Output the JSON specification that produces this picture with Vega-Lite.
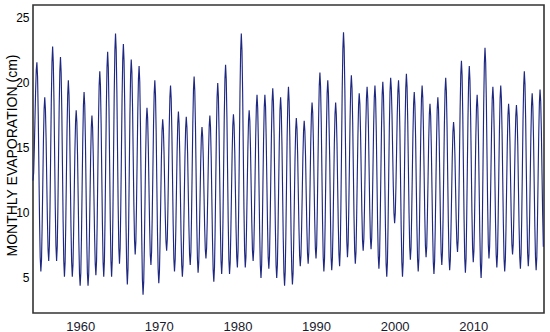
{
"$schema": "https://vega.github.io/schema/vega-lite/v6.json",
"width": 511, "height": 308,
"autosize": {"type": "none"},
"padding": {"left": 33, "top": 5, "right": 6, "bottom": 19},
"background": "white",
"config": {"view": {"stroke": "#333333", "strokeWidth": 1.6}, "font": "Liberation Sans"},
"datasets": {"evap": [
{"month":"1954-01","evap":12.5},{"month":"1954-02","evap":13.1},{"month":"1954-03","evap":14.8},{"month":"1954-04","evap":17.1},{"month":"1954-05","evap":19.3},{"month":"1954-06","evap":21.0},{"month":"1954-07","evap":21.6},{"month":"1954-08","evap":20.5},{"month":"1954-09","evap":17.6},{"month":"1954-10","evap":13.6},{"month":"1954-11","evap":9.5},{"month":"1954-12","evap":6.6},
{"month":"1955-01","evap":5.5},{"month":"1955-02","evap":6.4},{"month":"1955-03","evap":8.9},{"month":"1955-04","evap":12.2},{"month":"1955-05","evap":15.6},{"month":"1955-06","evap":18.0},{"month":"1955-07","evap":18.9},{"month":"1955-08","evap":18.0},{"month":"1955-09","evap":15.8},{"month":"1955-10","evap":12.6},{"month":"1955-11","evap":9.5},{"month":"1955-12","evap":7.2},
{"month":"1956-01","evap":6.3},{"month":"1956-02","evap":7.5},{"month":"1956-03","evap":10.4},{"month":"1956-04","evap":14.6},{"month":"1956-05","evap":18.7},{"month":"1956-06","evap":21.6},{"month":"1956-07","evap":22.8},{"month":"1956-08","evap":21.6},{"month":"1956-09","evap":18.7},{"month":"1956-10","evap":14.6},{"month":"1956-11","evap":10.4},{"month":"1956-12","evap":7.5},
{"month":"1957-01","evap":6.3},{"month":"1957-02","evap":7.4},{"month":"1957-03","evap":10.2},{"month":"1957-04","evap":14.2},{"month":"1957-05","evap":18.1},{"month":"1957-06","evap":20.9},{"month":"1957-07","evap":22.0},{"month":"1957-08","evap":20.8},{"month":"1957-09","evap":17.8},{"month":"1957-10","evap":13.6},{"month":"1957-11","evap":9.3},{"month":"1957-12","evap":6.3},
{"month":"1958-01","evap":5.1},{"month":"1958-02","evap":6.2},{"month":"1958-03","evap":8.9},{"month":"1958-04","evap":12.7},{"month":"1958-05","evap":16.4},{"month":"1958-06","evap":19.1},{"month":"1958-07","evap":20.2},{"month":"1958-08","evap":19.1},{"month":"1958-09","evap":16.4},{"month":"1958-10","evap":12.7},{"month":"1958-11","evap":8.9},{"month":"1958-12","evap":6.2},
{"month":"1959-01","evap":5.1},{"month":"1959-02","evap":6.0},{"month":"1959-03","evap":8.3},{"month":"1959-04","evap":11.5},{"month":"1959-05","evap":14.7},{"month":"1959-06","evap":17.0},{"month":"1959-07","evap":17.9},{"month":"1959-08","evap":17.0},{"month":"1959-09","evap":14.5},{"month":"1959-10","evap":11.2},{"month":"1959-11","evap":7.8},{"month":"1959-12","evap":5.3},
{"month":"1960-01","evap":4.4},{"month":"1960-02","evap":5.4},{"month":"1960-03","evap":8.1},{"month":"1960-04","evap":11.9},{"month":"1960-05","evap":15.6},{"month":"1960-06","evap":18.3},{"month":"1960-07","evap":19.3},{"month":"1960-08","evap":18.3},{"month":"1960-09","evap":15.6},{"month":"1960-10","evap":11.9},{"month":"1960-11","evap":8.1},{"month":"1960-12","evap":5.4},
{"month":"1961-01","evap":4.4},{"month":"1961-02","evap":5.3},{"month":"1961-03","evap":7.7},{"month":"1961-04","evap":11.0},{"month":"1961-05","evap":14.2},{"month":"1961-06","evap":16.6},{"month":"1961-07","evap":17.5},{"month":"1961-08","evap":16.6},{"month":"1961-09","evap":14.4},{"month":"1961-10","evap":11.4},{"month":"1961-11","evap":8.3},{"month":"1961-12","evap":6.1},
{"month":"1962-01","evap":5.2},{"month":"1962-02","evap":6.3},{"month":"1962-03","evap":9.1},{"month":"1962-04","evap":13.1},{"month":"1962-05","evap":17.0},{"month":"1962-06","evap":19.8},{"month":"1962-07","evap":20.9},{"month":"1962-08","evap":19.8},{"month":"1962-09","evap":16.9},{"month":"1962-10","evap":13.0},{"month":"1962-11","evap":9.1},{"month":"1962-12","evap":6.2},
{"month":"1963-01","evap":5.1},{"month":"1963-02","evap":6.3},{"month":"1963-03","evap":9.4},{"month":"1963-04","evap":13.8},{"month":"1963-05","evap":18.1},{"month":"1963-06","evap":21.2},{"month":"1963-07","evap":22.4},{"month":"1963-08","evap":21.2},{"month":"1963-09","evap":18.1},{"month":"1963-10","evap":13.8},{"month":"1963-11","evap":9.4},{"month":"1963-12","evap":6.3},
{"month":"1964-01","evap":5.1},{"month":"1964-02","evap":6.4},{"month":"1964-03","evap":9.8},{"month":"1964-04","evap":14.5},{"month":"1964-05","evap":19.1},{"month":"1964-06","evap":22.5},{"month":"1964-07","evap":23.8},{"month":"1964-08","evap":22.6},{"month":"1964-09","evap":19.4},{"month":"1964-10","evap":15.0},{"month":"1964-11","evap":10.5},{"month":"1964-12","evap":7.3},
{"month":"1965-01","evap":6.1},{"month":"1965-02","evap":7.3},{"month":"1965-03","evap":10.3},{"month":"1965-04","evap":14.6},{"month":"1965-05","evap":18.8},{"month":"1965-06","evap":21.8},{"month":"1965-07","evap":23.0},{"month":"1965-08","evap":21.7},{"month":"1965-09","evap":18.4},{"month":"1965-10","evap":13.8},{"month":"1965-11","evap":9.1},{"month":"1965-12","evap":5.8},
{"month":"1966-01","evap":4.5},{"month":"1966-02","evap":5.7},{"month":"1966-03","evap":8.8},{"month":"1966-04","evap":13.2},{"month":"1966-05","evap":17.5},{"month":"1966-06","evap":20.6},{"month":"1966-07","evap":21.8},{"month":"1966-08","evap":20.8},{"month":"1966-09","evap":18.1},{"month":"1966-10","evap":14.3},{"month":"1966-11","evap":10.6},{"month":"1966-12","evap":7.9},
{"month":"1967-01","evap":6.8},{"month":"1967-02","evap":7.8},{"month":"1967-03","evap":10.4},{"month":"1967-04","evap":14.1},{"month":"1967-05","evap":17.7},{"month":"1967-06","evap":20.3},{"month":"1967-07","evap":21.3},{"month":"1967-08","evap":20.1},{"month":"1967-09","evap":16.9},{"month":"1967-10","evap":12.5},{"month":"1967-11","evap":8.1},{"month":"1967-12","evap":4.9},
{"month":"1968-01","evap":3.7},{"month":"1968-02","evap":4.7},{"month":"1968-03","evap":7.3},{"month":"1968-04","evap":10.9},{"month":"1968-05","evap":14.5},{"month":"1968-06","evap":17.1},{"month":"1968-07","evap":18.1},{"month":"1968-08","evap":17.3},{"month":"1968-09","evap":15.1},{"month":"1968-10","evap":12.1},{"month":"1968-11","evap":9.0},{"month":"1968-12","evap":6.8},
{"month":"1969-01","evap":6.0},{"month":"1969-02","evap":7.0},{"month":"1969-03","evap":9.6},{"month":"1969-04","evap":13.1},{"month":"1969-05","evap":16.7},{"month":"1969-06","evap":19.2},{"month":"1969-07","evap":20.2},{"month":"1969-08","evap":19.1},{"month":"1969-09","evap":16.3},{"month":"1969-10","evap":12.4},{"month":"1969-11","evap":8.5},{"month":"1969-12","evap":5.7},
{"month":"1970-01","evap":4.6},{"month":"1970-02","evap":5.5},{"month":"1970-03","evap":7.8},{"month":"1970-04","evap":10.9},{"month":"1970-05","evap":14.1},{"month":"1970-06","evap":16.3},{"month":"1970-07","evap":17.2},{"month":"1970-08","evap":16.5},{"month":"1970-09","evap":14.7},{"month":"1970-10","evap":12.2},{"month":"1970-11","evap":9.6},{"month":"1970-12","evap":7.8},
{"month":"1971-01","evap":7.1},{"month":"1971-02","evap":8.0},{"month":"1971-03","evap":10.3},{"month":"1971-04","evap":13.5},{"month":"1971-05","evap":16.6},{"month":"1971-06","evap":18.9},{"month":"1971-07","evap":19.8},{"month":"1971-08","evap":18.8},{"month":"1971-09","evap":16.2},{"month":"1971-10","evap":12.7},{"month":"1971-11","evap":9.1},{"month":"1971-12","evap":6.5},
{"month":"1972-01","evap":5.5},{"month":"1972-02","evap":6.4},{"month":"1972-03","evap":8.6},{"month":"1972-04","evap":11.7},{"month":"1972-05","evap":14.7},{"month":"1972-06","evap":16.9},{"month":"1972-07","evap":17.8},{"month":"1972-08","evap":16.9},{"month":"1972-09","evap":14.6},{"month":"1972-10","evap":11.5},{"month":"1972-11","evap":8.3},{"month":"1972-12","evap":6.0},
{"month":"1973-01","evap":5.1},{"month":"1973-02","evap":6.0},{"month":"1973-03","evap":8.2},{"month":"1973-04","evap":11.3},{"month":"1973-05","evap":14.3},{"month":"1973-06","evap":16.5},{"month":"1973-07","evap":17.4},{"month":"1973-08","evap":16.6},{"month":"1973-09","evap":14.6},{"month":"1973-10","evap":11.7},{"month":"1973-11","evap":8.9},{"month":"1973-12","evap":6.8},
{"month":"1974-01","evap":6.0},{"month":"1974-02","evap":7.0},{"month":"1974-03","evap":9.6},{"month":"1974-04","evap":13.3},{"month":"1974-05","evap":16.9},{"month":"1974-06","evap":19.5},{"month":"1974-07","evap":20.5},{"month":"1974-08","evap":19.4},{"month":"1974-09","evap":16.7},{"month":"1974-10","evap":13.0},{"month":"1974-11","evap":9.2},{"month":"1974-12","evap":6.5},
{"month":"1975-01","evap":5.4},{"month":"1975-02","evap":6.2},{"month":"1975-03","evap":8.2},{"month":"1975-04","evap":11.0},{"month":"1975-05","evap":13.8},{"month":"1975-06","evap":15.8},{"month":"1975-07","evap":16.6},{"month":"1975-08","evap":15.9},{"month":"1975-09","evap":14.1},{"month":"1975-10","evap":11.6},{"month":"1975-11","evap":9.0},{"month":"1975-12","evap":7.2},
{"month":"1976-01","evap":6.5},{"month":"1976-02","evap":7.3},{"month":"1976-03","evap":9.3},{"month":"1976-04","evap":12.0},{"month":"1976-05","evap":14.8},{"month":"1976-06","evap":16.7},{"month":"1976-07","evap":17.5},{"month":"1976-08","evap":16.6},{"month":"1976-09","evap":14.3},{"month":"1976-10","evap":11.1},{"month":"1976-11","evap":7.9},{"month":"1976-12","evap":5.6},
{"month":"1977-01","evap":4.7},{"month":"1977-02","evap":5.8},{"month":"1977-03","evap":8.5},{"month":"1977-04","evap":12.4},{"month":"1977-05","evap":16.2},{"month":"1977-06","evap":18.9},{"month":"1977-07","evap":20.0},{"month":"1977-08","evap":19.0},{"month":"1977-09","evap":16.3},{"month":"1977-10","evap":12.7},{"month":"1977-11","evap":9.0},{"month":"1977-12","evap":6.3},
{"month":"1978-01","evap":5.3},{"month":"1978-02","evap":6.4},{"month":"1978-03","evap":9.3},{"month":"1978-04","evap":13.4},{"month":"1978-05","evap":17.4},{"month":"1978-06","evap":20.3},{"month":"1978-07","evap":21.4},{"month":"1978-08","evap":20.3},{"month":"1978-09","evap":17.4},{"month":"1978-10","evap":13.4},{"month":"1978-11","evap":9.3},{"month":"1978-12","evap":6.4},
{"month":"1979-01","evap":5.3},{"month":"1979-02","evap":6.2},{"month":"1979-03","evap":8.4},{"month":"1979-04","evap":11.5},{"month":"1979-05","evap":14.5},{"month":"1979-06","evap":16.7},{"month":"1979-07","evap":17.6},{"month":"1979-08","evap":16.8},{"month":"1979-09","evap":14.7},{"month":"1979-10","evap":11.7},{"month":"1979-11","evap":8.7},{"month":"1979-12","evap":6.6},
{"month":"1980-01","evap":5.8},{"month":"1980-02","evap":7.1},{"month":"1980-03","evap":10.3},{"month":"1980-04","evap":14.8},{"month":"1980-05","evap":19.3},{"month":"1980-06","evap":22.5},{"month":"1980-07","evap":23.8},{"month":"1980-08","evap":22.5},{"month":"1980-09","evap":19.3},{"month":"1980-10","evap":14.8},{"month":"1980-11","evap":10.3},{"month":"1980-12","evap":7.1},
{"month":"1981-01","evap":5.8},{"month":"1981-02","evap":6.6},{"month":"1981-03","evap":8.8},{"month":"1981-04","evap":11.9},{"month":"1981-05","evap":14.9},{"month":"1981-06","evap":17.1},{"month":"1981-07","evap":17.9},{"month":"1981-08","evap":17.1},{"month":"1981-09","evap":15.0},{"month":"1981-10","evap":12.1},{"month":"1981-11","evap":9.2},{"month":"1981-12","evap":7.1},
{"month":"1982-01","evap":6.3},{"month":"1982-02","evap":7.2},{"month":"1982-03","evap":9.5},{"month":"1982-04","evap":12.7},{"month":"1982-05","evap":15.9},{"month":"1982-06","evap":18.2},{"month":"1982-07","evap":19.1},{"month":"1982-08","evap":18.1},{"month":"1982-09","evap":15.6},{"month":"1982-10","evap":12.1},{"month":"1982-11","evap":8.5},{"month":"1982-12","evap":6.0},
{"month":"1983-01","evap":5.0},{"month":"1983-02","evap":6.0},{"month":"1983-03","evap":8.5},{"month":"1983-04","evap":12.1},{"month":"1983-05","evap":15.6},{"month":"1983-06","evap":18.1},{"month":"1983-07","evap":19.1},{"month":"1983-08","evap":18.2},{"month":"1983-09","evap":15.7},{"month":"1983-10","evap":12.4},{"month":"1983-11","evap":9.1},{"month":"1983-12","evap":6.6},
{"month":"1984-01","evap":5.7},{"month":"1984-02","evap":6.7},{"month":"1984-03","evap":9.2},{"month":"1984-04","evap":12.7},{"month":"1984-05","evap":16.1},{"month":"1984-06","evap":18.6},{"month":"1984-07","evap":19.6},{"month":"1984-08","evap":18.6},{"month":"1984-09","evap":16.0},{"month":"1984-10","evap":12.3},{"month":"1984-11","evap":8.7},{"month":"1984-12","evap":6.0},
{"month":"1985-01","evap":5.0},{"month":"1985-02","evap":6.0},{"month":"1985-03","evap":8.5},{"month":"1985-04","evap":12.0},{"month":"1985-05","evap":15.4},{"month":"1985-06","evap":17.9},{"month":"1985-07","evap":18.9},{"month":"1985-08","evap":17.9},{"month":"1985-09","evap":15.3},{"month":"1985-10","evap":11.7},{"month":"1985-11","evap":8.0},{"month":"1985-12","evap":5.4},
{"month":"1986-01","evap":4.4},{"month":"1986-02","evap":5.5},{"month":"1986-03","evap":8.2},{"month":"1986-04","evap":12.1},{"month":"1986-05","evap":15.9},{"month":"1986-06","evap":18.6},{"month":"1986-07","evap":19.7},{"month":"1986-08","evap":18.6},{"month":"1986-09","evap":15.9},{"month":"1986-10","evap":12.1},{"month":"1986-11","evap":8.3},{"month":"1986-12","evap":5.6},
{"month":"1987-01","evap":4.5},{"month":"1987-02","evap":5.4},{"month":"1987-03","evap":7.7},{"month":"1987-04","evap":10.9},{"month":"1987-05","evap":14.1},{"month":"1987-06","evap":16.4},{"month":"1987-07","evap":17.3},{"month":"1987-08","evap":16.5},{"month":"1987-09","evap":14.5},{"month":"1987-10","evap":11.6},{"month":"1987-11","evap":8.8},{"month":"1987-12","evap":6.7},
{"month":"1988-01","evap":5.9},{"month":"1988-02","evap":6.7},{"month":"1988-03","evap":8.7},{"month":"1988-04","evap":11.5},{"month":"1988-05","evap":14.3},{"month":"1988-06","evap":16.3},{"month":"1988-07","evap":17.1},{"month":"1988-08","evap":16.3},{"month":"1988-09","evap":14.4},{"month":"1988-10","evap":11.6},{"month":"1988-11","evap":8.9},{"month":"1988-12","evap":6.9},
{"month":"1989-01","evap":6.1},{"month":"1989-02","evap":7.0},{"month":"1989-03","evap":9.2},{"month":"1989-04","evap":12.3},{"month":"1989-05","evap":15.4},{"month":"1989-06","evap":17.6},{"month":"1989-07","evap":18.5},{"month":"1989-08","evap":17.7},{"month":"1989-09","evap":15.5},{"month":"1989-10","evap":12.5},{"month":"1989-11","evap":9.5},{"month":"1989-12","evap":7.3},
{"month":"1990-01","evap":6.5},{"month":"1990-02","evap":7.5},{"month":"1990-03","evap":10.1},{"month":"1990-04","evap":13.7},{"month":"1990-05","evap":17.2},{"month":"1990-06","evap":19.8},{"month":"1990-07","evap":20.8},{"month":"1990-08","evap":19.7},{"month":"1990-09","evap":17.0},{"month":"1990-10","evap":13.2},{"month":"1990-11","evap":9.3},{"month":"1990-12","evap":6.6},
{"month":"1991-01","evap":5.5},{"month":"1991-02","evap":6.5},{"month":"1991-03","evap":9.2},{"month":"1991-04","evap":12.9},{"month":"1991-05","evap":16.5},{"month":"1991-06","evap":19.2},{"month":"1991-07","evap":20.2},{"month":"1991-08","evap":19.2},{"month":"1991-09","evap":16.6},{"month":"1991-10","evap":14.0},{"month":"1991-11","evap":10.0},{"month":"1991-12","evap":6.6},
{"month":"1992-01","evap":5.6},{"month":"1992-02","evap":6.5},{"month":"1992-03","evap":8.8},{"month":"1992-04","evap":12.1},{"month":"1992-05","evap":15.3},{"month":"1992-06","evap":17.6},{"month":"1992-07","evap":18.5},{"month":"1992-08","evap":17.6},{"month":"1992-09","evap":15.4},{"month":"1992-10","evap":12.2},{"month":"1992-11","evap":9.1},{"month":"1992-12","evap":6.8},
{"month":"1993-01","evap":5.9},{"month":"1993-02","evap":7.2},{"month":"1993-03","evap":10.4},{"month":"1993-04","evap":14.9},{"month":"1993-05","evap":19.4},{"month":"1993-06","evap":22.6},{"month":"1993-07","evap":23.9},{"month":"1993-08","evap":22.7},{"month":"1993-09","evap":19.6},{"month":"1993-10","evap":15.3},{"month":"1993-11","evap":10.9},{"month":"1993-12","evap":7.8},
{"month":"1994-01","evap":6.6},{"month":"1994-02","evap":7.6},{"month":"1994-03","evap":10.1},{"month":"1994-04","evap":13.6},{"month":"1994-05","evap":17.1},{"month":"1994-06","evap":19.6},{"month":"1994-07","evap":20.6},{"month":"1994-08","evap":19.6},{"month":"1994-09","evap":17.0},{"month":"1994-10","evap":13.4},{"month":"1994-11","evap":9.7},{"month":"1994-12","evap":7.1},
{"month":"1995-01","evap":6.1},{"month":"1995-02","evap":7.0},{"month":"1995-03","evap":9.4},{"month":"1995-04","evap":12.7},{"month":"1995-05","evap":15.9},{"month":"1995-06","evap":18.3},{"month":"1995-07","evap":19.2},{"month":"1995-08","evap":18.4},{"month":"1995-09","evap":16.2},{"month":"1995-10","evap":13.2},{"month":"1995-11","evap":10.1},{"month":"1995-12","evap":7.9},
{"month":"1996-01","evap":7.1},{"month":"1996-02","evap":8.0},{"month":"1996-03","evap":10.3},{"month":"1996-04","evap":13.4},{"month":"1996-05","evap":16.6},{"month":"1996-06","evap":18.8},{"month":"1996-07","evap":19.7},{"month":"1996-08","evap":18.8},{"month":"1996-09","evap":16.6},{"month":"1996-10","evap":13.5},{"month":"1996-11","evap":10.3},{"month":"1996-12","evap":8.1},
{"month":"1997-01","evap":7.2},{"month":"1997-02","evap":8.1},{"month":"1997-03","evap":10.4},{"month":"1997-04","evap":13.5},{"month":"1997-05","evap":16.7},{"month":"1997-06","evap":18.9},{"month":"1997-07","evap":19.8},{"month":"1997-08","evap":18.8},{"month":"1997-09","evap":16.3},{"month":"1997-10","evap":12.8},{"month":"1997-11","evap":9.2},{"month":"1997-12","evap":6.7},
{"month":"1998-01","evap":5.7},{"month":"1998-02","evap":6.7},{"month":"1998-03","evap":9.3},{"month":"1998-04","evap":12.9},{"month":"1998-05","evap":16.5},{"month":"1998-06","evap":19.1},{"month":"1998-07","evap":20.1},{"month":"1998-08","evap":19.1},{"month":"1998-09","evap":16.4},{"month":"1998-10","evap":12.6},{"month":"1998-11","evap":8.9},{"month":"1998-12","evap":6.1},
{"month":"1999-01","evap":5.1},{"month":"1999-02","evap":6.2},{"month":"1999-03","evap":8.9},{"month":"1999-04","evap":12.8},{"month":"1999-05","evap":16.6},{"month":"1999-06","evap":19.3},{"month":"1999-07","evap":20.4},{"month":"1999-08","evap":19.6},{"month":"1999-09","evap":17.6},{"month":"1999-10","evap":14.8},{"month":"1999-11","evap":12.0},{"month":"1999-12","evap":10.0},
{"month":"2000-01","evap":9.2},{"month":"2000-02","evap":10.0},{"month":"2000-03","evap":12.0},{"month":"2000-04","evap":14.7},{"month":"2000-05","evap":17.5},{"month":"2000-06","evap":19.4},{"month":"2000-07","evap":20.2},{"month":"2000-08","evap":19.1},{"month":"2000-09","evap":16.4},{"month":"2000-10","evap":12.7},{"month":"2000-11","evap":8.9},{"month":"2000-12","evap":6.2},
{"month":"2001-01","evap":5.1},{"month":"2001-02","evap":6.2},{"month":"2001-03","evap":9.0},{"month":"2001-04","evap":12.9},{"month":"2001-05","evap":16.8},{"month":"2001-06","evap":19.6},{"month":"2001-07","evap":20.7},{"month":"2001-08","evap":19.7},{"month":"2001-09","evap":17.1},{"month":"2001-10","evap":13.6},{"month":"2001-11","evap":10.0},{"month":"2001-12","evap":7.4},
{"month":"2002-01","evap":6.4},{"month":"2002-02","evap":7.3},{"month":"2002-03","evap":9.6},{"month":"2002-04","evap":12.9},{"month":"2002-05","evap":16.1},{"month":"2002-06","evap":18.4},{"month":"2002-07","evap":19.3},{"month":"2002-08","evap":18.3},{"month":"2002-09","evap":15.9},{"month":"2002-10","evap":12.4},{"month":"2002-11","evap":9.0},{"month":"2002-12","evap":6.5},
{"month":"2003-01","evap":5.5},{"month":"2003-02","evap":6.5},{"month":"2003-03","evap":9.1},{"month":"2003-04","evap":12.7},{"month":"2003-05","evap":16.2},{"month":"2003-06","evap":18.8},{"month":"2003-07","evap":19.8},{"month":"2003-08","evap":18.9},{"month":"2003-09","evap":16.5},{"month":"2003-10","evap":13.2},{"month":"2003-11","evap":9.9},{"month":"2003-12","evap":7.5},
{"month":"2004-01","evap":6.6},{"month":"2004-02","evap":7.4},{"month":"2004-03","evap":9.6},{"month":"2004-04","evap":12.5},{"month":"2004-05","evap":15.5},{"month":"2004-06","evap":17.6},{"month":"2004-07","evap":18.4},{"month":"2004-08","evap":17.5},{"month":"2004-09","evap":15.1},{"month":"2004-10","evap":11.9},{"month":"2004-11","evap":8.6},{"month":"2004-12","evap":6.2},
{"month":"2005-01","evap":5.3},{"month":"2005-02","evap":6.3},{"month":"2005-03","evap":8.7},{"month":"2005-04","evap":12.1},{"month":"2005-05","evap":15.5},{"month":"2005-06","evap":18.0},{"month":"2005-07","evap":18.9},{"month":"2005-08","evap":18.0},{"month":"2005-09","evap":15.7},{"month":"2005-10","evap":12.5},{"month":"2005-11","evap":9.2},{"month":"2005-12","evap":6.9},
{"month":"2006-01","evap":6.0},{"month":"2006-02","evap":7.0},{"month":"2006-03","evap":9.6},{"month":"2006-04","evap":13.2},{"month":"2006-05","evap":16.8},{"month":"2006-06","evap":19.4},{"month":"2006-07","evap":20.4},{"month":"2006-08","evap":19.4},{"month":"2006-09","evap":16.7},{"month":"2006-10","evap":13.0},{"month":"2006-11","evap":9.3},{"month":"2006-12","evap":6.6},
{"month":"2007-01","evap":5.6},{"month":"2007-02","evap":6.4},{"month":"2007-03","evap":8.5},{"month":"2007-04","evap":11.3},{"month":"2007-05","evap":14.2},{"month":"2007-06","evap":16.2},{"month":"2007-07","evap":17.0},{"month":"2007-08","evap":16.3},{"month":"2007-09","evap":14.5},{"month":"2007-10","evap":12.0},{"month":"2007-11","evap":9.5},{"month":"2007-12","evap":7.7},
{"month":"2008-01","evap":7.0},{"month":"2008-02","evap":8.0},{"month":"2008-03","evap":10.7},{"month":"2008-04","evap":14.4},{"month":"2008-05","evap":18.0},{"month":"2008-06","evap":20.7},{"month":"2008-07","evap":21.7},{"month":"2008-08","evap":20.6},{"month":"2008-09","evap":17.6},{"month":"2008-10","evap":13.6},{"month":"2008-11","evap":9.5},{"month":"2008-12","evap":6.5},
{"month":"2009-01","evap":5.4},{"month":"2009-02","evap":6.5},{"month":"2009-03","evap":9.4},{"month":"2009-04","evap":13.4},{"month":"2009-05","evap":17.3},{"month":"2009-06","evap":20.2},{"month":"2009-07","evap":21.3},{"month":"2009-08","evap":20.2},{"month":"2009-09","evap":17.5},{"month":"2009-10","evap":13.8},{"month":"2009-11","evap":10.0},{"month":"2009-12","evap":7.3},
{"month":"2010-01","evap":6.2},{"month":"2010-02","evap":7.1},{"month":"2010-03","evap":9.4},{"month":"2010-04","evap":12.7},{"month":"2010-05","evap":15.9},{"month":"2010-06","evap":18.2},{"month":"2010-07","evap":19.1},{"month":"2010-08","evap":18.1},{"month":"2010-09","evap":15.6},{"month":"2010-10","evap":12.1},{"month":"2010-11","evap":8.5},{"month":"2010-12","evap":6.0},
{"month":"2011-01","evap":5.0},{"month":"2011-02","evap":6.2},{"month":"2011-03","evap":9.4},{"month":"2011-04","evap":13.9},{"month":"2011-05","evap":18.3},{"month":"2011-06","evap":21.5},{"month":"2011-07","evap":22.7},{"month":"2011-08","evap":21.6},{"month":"2011-09","evap":18.7},{"month":"2011-10","evap":14.6},{"month":"2011-11","evap":10.6},{"month":"2011-12","evap":7.6},
{"month":"2012-01","evap":6.5},{"month":"2012-02","evap":7.4},{"month":"2012-03","evap":9.8},{"month":"2012-04","evap":13.1},{"month":"2012-05","evap":16.4},{"month":"2012-06","evap":18.8},{"month":"2012-07","evap":19.7},{"month":"2012-08","evap":18.7},{"month":"2012-09","evap":16.2},{"month":"2012-10","evap":12.8},{"month":"2012-11","evap":9.3},{"month":"2012-12","evap":6.8},
{"month":"2013-01","evap":5.8},{"month":"2013-02","evap":6.8},{"month":"2013-03","evap":9.3},{"month":"2013-04","evap":12.8},{"month":"2013-05","evap":16.3},{"month":"2013-06","evap":18.8},{"month":"2013-07","evap":19.8},{"month":"2013-08","evap":18.8},{"month":"2013-09","evap":16.2},{"month":"2013-10","evap":12.7},{"month":"2013-11","evap":9.1},{"month":"2013-12","evap":6.5},
{"month":"2014-01","evap":5.5},{"month":"2014-02","evap":6.4},{"month":"2014-03","evap":8.7},{"month":"2014-04","evap":12.0},{"month":"2014-05","evap":15.2},{"month":"2014-06","evap":17.5},{"month":"2014-07","evap":18.4},{"month":"2014-08","evap":17.6},{"month":"2014-09","evap":15.5},{"month":"2014-10","evap":12.6},{"month":"2014-11","evap":9.7},{"month":"2014-12","evap":7.6},
{"month":"2015-01","evap":6.8},{"month":"2015-02","evap":7.6},{"month":"2015-03","evap":9.7},{"month":"2015-04","evap":12.6},{"month":"2015-05","evap":15.4},{"month":"2015-06","evap":17.5},{"month":"2015-07","evap":18.3},{"month":"2015-08","evap":17.4},{"month":"2015-09","evap":15.2},{"month":"2015-10","evap":12.0},{"month":"2015-11","evap":8.9},{"month":"2015-12","evap":6.6},
{"month":"2016-01","evap":5.7},{"month":"2016-02","evap":6.8},{"month":"2016-03","evap":9.5},{"month":"2016-04","evap":13.3},{"month":"2016-05","evap":17.1},{"month":"2016-06","evap":19.8},{"month":"2016-07","evap":20.9},{"month":"2016-08","evap":19.9},{"month":"2016-09","evap":17.2},{"month":"2016-10","evap":13.4},{"month":"2016-11","evap":9.7},{"month":"2016-12","evap":6.9},
{"month":"2017-01","evap":5.9},{"month":"2017-02","evap":6.8},{"month":"2017-03","evap":9.2},{"month":"2017-04","evap":12.6},{"month":"2017-05","evap":15.9},{"month":"2017-06","evap":18.3},{"month":"2017-07","evap":19.2},{"month":"2017-08","evap":18.2},{"month":"2017-09","evap":15.8},{"month":"2017-10","evap":12.4},{"month":"2017-11","evap":9.0},{"month":"2017-12","evap":6.6},
{"month":"2018-01","evap":5.6},{"month":"2018-02","evap":6.6},{"month":"2018-03","evap":9.1},{"month":"2018-04","evap":12.6},{"month":"2018-05","evap":16.0},{"month":"2018-06","evap":18.5},{"month":"2018-07","evap":19.5},{"month":"2018-08","evap":18.6},{"month":"2018-09","evap":16.3},{"month":"2018-10","evap":13.0},{"month":"2018-11","evap":9.8},{"month":"2018-12","evap":7.4}
]},
"data": {"name": "evap"},
"mark": {"type": "line", "color": "#1f2880", "strokeWidth": 1.15, "interpolate": "linear"},
"encoding": {
  "x": {"field": "month", "type": "temporal",
    "scale": {"type": "utc", "domain": [{"year": 1954, "month": 1, "date": 1, "utc": true}, {"year": 2019, "month": 1, "date": 1, "utc": true}]},
    "axis": {"title": null, "format": "%Y",
      "values": [{"year": 1960, "utc": true}, {"year": 1970, "utc": true}, {"year": 1980, "utc": true}, {"year": 1990, "utc": true}, {"year": 2000, "utc": true}, {"year": 2010, "utc": true}],
      "grid": false, "domain": false, "ticks": false, "labelFontSize": 13, "labelColor": "#1a1a2e", "labelPadding": 7, "labelFont": "Liberation Sans"}},
  "y": {"field": "evap", "type": "quantitative",
    "scale": {"domain": [2.3, 26], "nice": false, "zero": false},
    "axis": {"title": "MONTHLY EVAPORATION (cm)", "values": [5, 10, 15, 20, 25], "grid": false, "domain": false, "ticks": false,
      "labelFontSize": 12, "labelPadding": 4, "labelColor": "black", "labelFont": "Liberation Sans",
      "titleFontSize": 14, "titleFontWeight": "normal", "titleX": -21, "titleY": 150, "titleBaseline": "middle", "titleAngle": -90, "titleColor": "black", "titleFont": "Liberation Sans"}}
}
}
